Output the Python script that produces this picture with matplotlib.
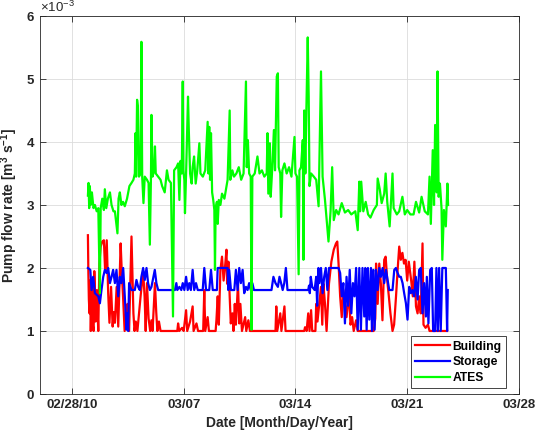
import pandas as pd
import matplotlib
matplotlib.use("Agg")
import matplotlib.pyplot as plt

# --- data: days after 2010-02-28, pump flow rate in 1e-3 m3/s ---
ates_day = [1.00, 1.04, 1.08, 1.12, 1.17, 1.25, 1.35, 1.44, 1.55, 1.65, 1.75, 1.80, 1.90, 2.00, 2.06,
            2.15, 2.25, 2.38, 2.48, 2.60, 2.69, 2.85, 2.92, 3.00, 3.10, 3.20, 3.31, 3.45, 3.60, 3.73,
            3.85, 3.94, 3.98, 4.02, 4.08, 4.13, 4.20, 4.30, 4.35, 4.40, 4.48, 4.56, 4.70, 4.80, 4.88,
            4.95, 4.98, 5.05, 5.15, 5.20, 5.25, 5.40, 5.55, 5.65, 5.81, 5.95, 6.05, 6.20, 6.33, 6.40,
            6.55, 6.65, 6.73, 6.80, 6.88, 6.94, 6.98, 7.04, 7.08, 7.15, 7.27, 7.32, 7.40, 7.50, 7.56,
            7.65, 7.75, 7.85, 7.98, 8.05, 8.20, 8.35, 8.50, 8.55, 8.60, 8.65, 8.71, 8.78, 8.85, 8.92,
            8.96, 9.00, 9.08, 9.13, 9.20, 9.30, 9.40, 9.55, 9.65, 9.75, 9.88, 9.92, 10.05, 10.15, 10.30,
            10.45, 10.60, 10.75, 10.90, 10.95, 11.02, 11.10, 11.20, 11.25, 11.30, 11.45, 11.62, 11.75,
            11.90, 12.05, 12.20, 12.25, 12.30, 12.40, 12.45, 12.55, 12.65, 12.72, 12.80, 12.83, 12.90,
            12.95, 13.05, 13.10, 13.18, 13.31, 13.45, 13.60, 13.75, 13.94, 14.00, 14.10, 14.20, 14.25,
            14.35, 14.46, 14.50, 14.55, 14.62, 14.68, 14.77, 14.83, 14.88, 14.98, 15.15, 15.30, 15.45,
            15.60, 15.70, 15.85, 16.07, 16.20, 16.30, 16.40, 16.55, 16.70, 16.90, 17.10, 17.30, 17.50,
            17.75, 17.90, 18.00, 18.05, 18.12, 18.25, 18.40, 18.55, 18.70, 18.90, 19.10, 19.15, 19.28,
            19.40, 19.56, 19.65, 19.75, 19.90, 20.08, 20.15, 20.35, 20.50, 20.70, 20.85, 21.00, 21.20,
            21.40, 21.55, 21.75, 21.90, 22.10, 22.30, 22.40, 22.48, 22.60, 22.68, 22.75, 22.85, 22.90,
            22.97, 23.05, 23.15, 23.20, 23.30, 23.42, 23.52, 23.56]
ates_val = [3.15, 3.35, 2.95, 3.30, 3.00, 3.20, 2.95, 3.00, 2.90, 2.95, 1.60, 2.95, 3.10, 2.92, 3.25,
            2.95, 3.10, 3.20, 3.00, 2.90, 2.90, 2.55, 3.10, 3.20, 3.00, 3.05, 2.98, 3.10, 3.30, 3.35,
            3.40, 3.50, 4.14, 3.45, 4.67, 4.56, 3.45, 3.50, 5.59, 3.45, 3.03, 3.45, 3.40, 3.35, 2.37,
            3.45, 4.43, 3.45, 3.55, 3.93, 3.50, 3.45, 3.40, 3.30, 3.20, 3.55, 3.40, 3.35, 1.23, 3.55,
            3.60, 3.66, 3.08, 3.70, 3.50, 4.96, 3.55, 3.40, 2.87, 3.50, 4.72, 4.19, 3.50, 3.34, 3.60,
            3.77, 3.34, 3.55, 3.98, 3.50, 3.45, 3.55, 4.32, 3.50, 4.24, 3.40, 4.14, 3.20, 3.08, 2.92,
            1.97, 2.95, 3.05, 2.70, 3.08, 3.00, 3.18, 3.10, 3.25, 3.40, 4.50, 3.40, 3.55, 3.45, 3.50,
            3.60, 3.40, 3.50, 4.96, 3.60, 4.03, 3.50, 3.45, 1.02, 3.45, 3.50, 3.77, 3.50,
            3.55, 3.45, 3.50, 4.14, 3.18, 3.98, 3.13, 3.60, 4.19, 3.55, 4.60, 5.04, 5.09,
            3.60, 3.50, 2.81, 3.55, 3.66, 3.50, 3.60, 3.45, 4.08, 3.50, 3.45, 1.90, 3.55,
            3.60, 4.03, 2.13, 4.50, 3.50, 4.45, 5.66, 4.72, 3.30, 3.50, 3.45, 3.40, 2.98,
            5.12, 3.45, 3.08, 2.42, 2.90, 3.60, 2.76, 2.92, 2.85, 3.03, 2.88, 2.92, 2.85,
            2.90, 2.60, 3.37, 2.90, 3.37, 2.90, 3.05, 2.85, 2.80, 2.92, 3.00, 3.42, 3.25,
            3.03, 3.18, 3.50, 3.05, 2.66, 3.50, 2.95, 2.85, 2.90, 3.13, 2.85, 2.92, 2.85,
            2.85, 3.05, 2.88, 3.13, 2.90, 2.85, 3.45, 2.70, 3.87, 3.00, 4.27, 3.20, 5.12,
            3.13, 3.34, 2.95, 2.13, 2.92, 2.66, 3.34, 3.00]

building_day = [1.00, 1.03, 1.06, 1.10, 1.13, 1.18, 1.25, 1.30, 1.36, 1.40, 1.48, 1.56, 1.65, 1.72, 1.80,
                1.90, 2.00, 2.08, 2.18, 2.27, 2.35, 2.45, 2.55, 2.62, 2.69, 2.80, 2.90, 3.05, 3.12, 3.20,
                3.30, 3.40, 3.48, 3.58, 3.73, 3.78, 3.85, 3.92, 4.00, 4.10, 4.30, 4.46, 4.55, 4.62, 4.70,
                4.80, 4.90, 4.98, 5.05, 5.20, 5.28, 5.35, 5.45, 5.55, 6.60, 6.65, 6.72, 6.90, 7.00, 7.15,
                7.22, 7.40, 7.56, 7.62, 7.80, 7.90, 8.22, 8.29, 8.35, 8.50, 8.58, 9.00, 9.05, 9.13, 9.20,
                9.30, 9.40, 9.50, 9.60, 9.68, 9.72, 9.80, 9.88, 9.95, 10.05, 10.12, 10.20, 10.27, 10.40,
                10.48, 10.55, 10.65, 10.85, 10.92, 11.05, 11.15, 12.75, 12.80, 12.86, 13.05, 13.12, 13.31,
                13.38, 14.55, 14.60, 14.70, 14.80, 14.88, 14.98, 15.05, 15.25, 15.30, 15.38, 15.45, 15.60,
                15.68, 15.75, 15.85, 15.95, 16.10, 16.25, 16.40, 16.54, 16.62, 16.70, 16.80, 16.90, 17.00,
                17.10, 17.20, 17.35, 17.45, 17.55, 17.65, 17.80, 17.90, 18.90, 19.00, 19.05, 19.15, 19.25,
                19.35, 19.45, 19.56, 19.65, 19.75, 19.85, 19.95, 20.08, 20.18, 20.30, 20.40, 20.50, 20.60,
                20.70, 20.80, 20.90, 21.00, 21.10, 21.25, 21.35, 21.45, 21.55, 21.65, 21.75, 21.85, 21.96,
                22.02, 22.15, 22.30, 22.40, 23.50]
building_val = [2.52, 1.90, 1.50, 1.28, 1.80, 1.00, 1.75, 1.10, 1.00, 1.95, 1.15, 1.65, 1.00, 2.07, 2.34,
                2.42, 2.44, 1.95, 2.44, 1.60, 1.13, 1.70, 1.07, 1.30, 1.13, 1.70, 1.07, 2.39, 1.95, 1.55,
                1.00, 1.25, 1.43, 1.00, 2.50, 1.97, 1.28, 1.00, 1.15, 1.00, 1.55, 1.95, 1.55, 1.00, 1.76,
                1.20, 1.00, 1.17, 1.00, 1.76, 1.30, 1.00, 1.15, 1.00, 1.00, 1.12, 1.00, 1.05, 1.00, 1.33,
                1.00, 1.15, 1.39, 1.00, 1.12, 1.00, 1.00, 1.65, 1.00, 1.22, 1.00, 1.00, 1.17, 1.55, 1.10,
                1.97, 2.18, 1.80, 2.05, 2.29, 1.75, 2.10, 1.55, 1.12, 1.28, 1.00, 1.43, 1.10, 1.75,
                1.12, 1.43, 1.00, 1.22, 1.00, 1.17, 1.00, 1.00, 1.39, 1.00, 1.28, 1.00, 1.39,
                1.00, 1.00, 1.06, 1.00, 1.28, 1.00, 1.33, 1.00, 1.00, 1.43, 1.15, 1.33, 1.70,
                1.10, 1.75, 1.43, 1.00, 1.75, 2.10, 2.29, 2.39, 2.42, 2.07, 1.55, 1.22, 1.65,
                1.45, 1.22, 1.60, 1.10, 1.22, 1.00, 1.17, 1.00, 1.00, 1.20, 2.07, 1.43, 2.07,
                1.75, 1.17, 2.13, 2.18, 1.80, 1.55, 1.28, 1.00, 1.10, 1.55, 1.97, 2.34, 2.13,
                2.24, 2.07, 2.13, 1.80, 2.10, 1.80, 1.55, 2.10, 1.39, 1.28, 1.55, 1.28, 2.39,
                1.10, 1.05, 1.10, 1.00, 1.00]

storage_day = [1.00, 1.15, 1.23, 1.33, 1.44, 1.65, 1.75, 1.85, 1.96, 2.06, 2.17, 2.27, 2.38, 2.48, 2.58,
               2.69, 2.79, 2.90, 3.00, 3.10, 3.21, 3.31, 3.42, 3.48, 3.52, 3.58, 3.73, 3.94, 4.04, 4.15,
               4.25, 4.35, 4.46, 4.56, 4.67, 4.77, 4.88, 4.98, 5.19, 5.29, 5.40, 6.45, 6.54, 6.60, 6.73,
               6.85, 6.94, 7.04, 7.15, 7.25, 7.35, 7.45, 7.56, 7.66, 7.77, 7.88, 8.19, 8.29, 8.40, 8.60,
               8.71, 8.82, 9.08, 9.13, 9.75, 9.79, 9.85, 9.96, 10.17, 10.27, 10.38, 10.48, 10.58, 10.69,
               10.79, 10.90, 11.00, 11.10, 11.20, 11.30, 11.40, 12.50, 12.62, 12.75, 12.90, 13.00, 13.10,
               13.20, 13.30, 13.40, 13.50, 14.80, 14.85, 14.90, 14.96, 15.05, 15.20, 15.30, 15.36, 15.44,
               15.50, 15.60, 15.70, 15.80, 15.90, 16.00, 16.10, 16.70, 16.80, 16.90, 17.00, 17.10, 17.20,
               17.30, 17.40, 17.50, 17.60, 17.70, 17.80, 17.90, 18.00, 18.10, 18.20, 18.31, 18.375, 18.46,
               18.54, 18.625, 18.73, 18.79, 18.875, 18.96, 19.04, 19.15, 19.25, 19.35, 19.46, 19.56, 19.67,
               19.875, 20.08, 20.19, 20.29, 20.40, 20.50, 20.60, 20.71, 20.81, 20.92, 21.02, 21.125, 21.23,
               21.33, 21.44, 21.54, 21.65, 21.75, 21.85, 21.96, 22.06, 22.17, 22.23, 22.33, 22.44, 22.54,
               22.625, 22.75, 22.83, 22.92, 23.00, 23.10, 23.20, 23.42, 23.50, 23.54]
storage_val = [2.00, 1.97, 1.65, 1.86, 1.60, 1.55, 1.44, 1.65, 1.86, 1.97, 1.92, 2.00, 1.76, 1.86, 1.97,
               1.76, 1.97, 1.55, 1.86, 1.76, 2.00, 1.55, 1.02, 1.28, 1.00, 1.76, 1.65, 1.65, 1.81, 1.70,
               1.65, 1.86, 2.00, 1.81, 2.00, 1.76, 1.65, 1.70, 1.97, 1.76, 1.65, 1.65, 1.76, 1.65, 1.70,
               1.65, 1.76, 1.65, 1.86, 1.65, 1.76, 1.65, 1.97, 1.65, 1.76, 1.65, 1.65, 2.00, 1.65, 1.65,
               1.97, 1.65, 1.65, 2.00, 2.00, 1.65, 1.97, 1.65, 1.65, 1.97, 1.65, 2.00, 1.76, 1.97,
               1.60, 1.70, 1.65, 1.76, 1.65, 1.76, 1.65, 1.65, 1.86, 1.76, 1.70, 1.86, 1.76,
               1.65, 1.76, 2.00, 1.65, 1.65, 1.72, 1.60, 1.86, 1.70, 1.65, 1.86, 1.40, 2.00,
               1.76, 2.00, 1.60, 1.86, 2.00, 1.65, 2.00, 2.00, 1.92, 1.55, 1.76, 1.12, 1.86,
               1.40, 1.97, 1.28, 1.76, 1.55, 2.00, 1.02, 2.00, 1.02, 2.00, 1.23, 2.00, 1.02,
               2.00, 1.18, 2.00, 1.00, 1.97, 1.02, 1.97, 1.65, 2.00, 1.86, 2.00, 1.76, 1.97,
               1.65, 1.65, 1.97, 2.00, 1.92, 1.86, 1.86, 1.76, 1.60, 1.44, 1.18, 1.70, 1.60,
               1.65, 1.55, 1.86, 1.50, 1.97, 2.00, 1.28, 1.76, 1.23, 1.86, 1.12, 1.97, 2.00,
               1.00, 1.00, 2.00, 1.00, 2.00, 1.00, 2.00, 2.00, 1.00, 1.65]

tick_days = [0, 7, 14, 21, 28]
tick_labels = ["02/28/10", "03/07", "03/14", "03/21", "03/28"]

# --- style ---
plt.rcParams['font.family'] = ['Liberation Sans', 'DejaVu Sans']
plt.rcParams['mathtext.fontset'] = 'custom'
plt.rcParams['mathtext.rm'] = 'Liberation Sans'
plt.rcParams['mathtext.bf'] = 'Liberation Sans:bold'

base = pd.Timestamp("2010-02-28")


def to_dates(days):
    return base + pd.to_timedelta(days, unit="D")


fig = plt.figure(figsize=(5.35, 4.38), dpi=100)
ax = fig.add_axes([0.0748, 0.1005, 0.8952, 0.863])

ax.plot(to_dates(building_day), [v * 1e-3 for v in building_val], color=(1, 0, 0), lw=1.6, label="Building")
ax.plot(to_dates(storage_day), [v * 1e-3 for v in storage_val], color=(0, 0, 1), lw=1.6, label="Storage")
ax.plot(to_dates(ates_day), [v * 1e-3 for v in ates_val], color=(0, 1, 0), lw=1.6, label="ATES")

ax.set_xlim(base - pd.Timedelta(days=2), base + pd.Timedelta(days=28))
ax.set_ylim(0, 6e-3)
ax.set_xticks(to_dates(tick_days))
ax.set_xticklabels(tick_labels)
ax.set_yticks([i * 1e-3 for i in range(7)])
ax.ticklabel_format(axis='y', style='sci', scilimits=(-3, -3), useMathText=True)

ax.grid(True, color='#dcdcdc', lw=0.6)
ax.set_axisbelow(True)
ax.tick_params(direction='in', top=True, right=True, length=4, width=0.6,
               colors='#262626', labelsize=9.5)
for lab in ax.get_xticklabels() + ax.get_yticklabels():
    lab.set_fontweight('bold')
ax.yaxis.get_offset_text().set_fontsize(9.5)
for sp in ax.spines.values():
    sp.set_color('#262626')
    sp.set_linewidth(0.6)

ax.set_xlabel("Date [Month/Day/Year]", fontsize=10, fontweight='bold', color='#262626')
ax.set_ylabel(r"Pump flow rate [m$^{\mathbf{3}}$ s$^{\mathbf{-1}}$]", fontsize=10,
              fontweight='bold', color='#262626')

# legend box sits at 506x388 px (bottom right corner)
leg = ax.legend(loc='lower right', bbox_to_anchor=(506 / 535, 50 / 438),
                bbox_transform=fig.transFigure, borderaxespad=0,
                fancybox=False, framealpha=1, edgecolor='#262626',
                prop={'weight': 'bold', 'size': 8.7}, handlelength=2.9,
                labelspacing=0.3, handletextpad=0.2, borderpad=0.35)
leg.get_frame().set_linewidth(0.6)

fig.savefig("out.png", dpi=100)
